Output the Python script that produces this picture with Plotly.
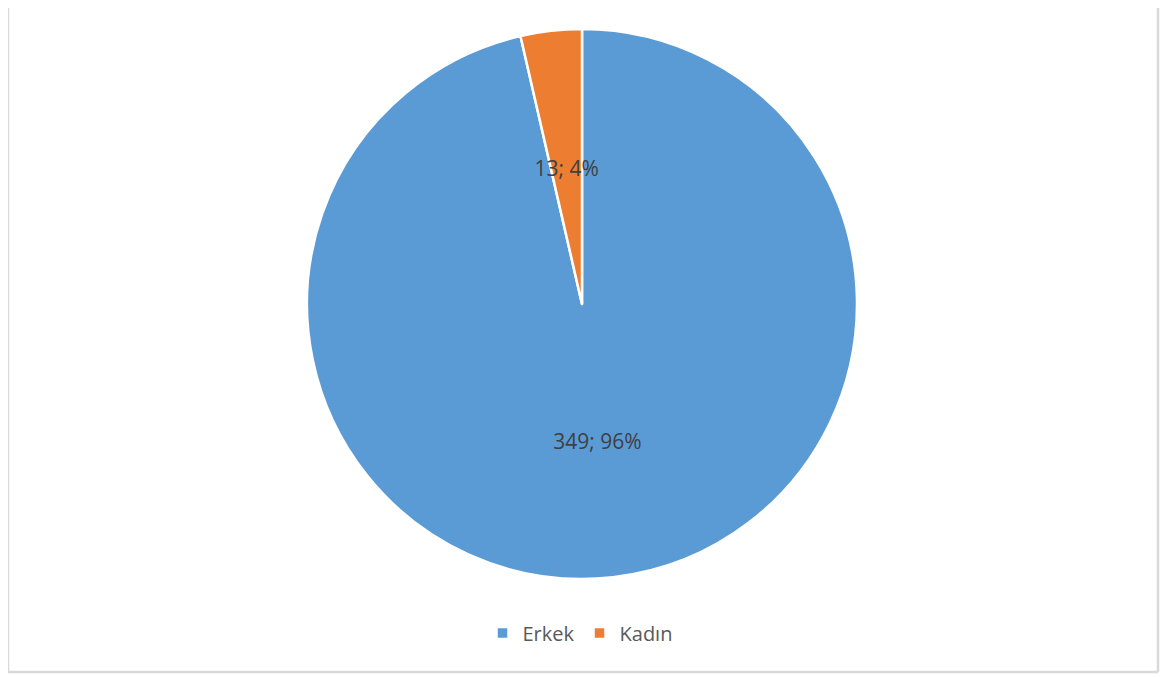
import plotly.graph_objects as go

labels = ["Erkek", "Kadın"]
values = [349, 13]
colors = ["#5B9BD5", "#ED7D31"]
label_fmt = "%{value}; %{percent:.0%}"

W, H = 1168, 677


def fx(px):
    return px / W


def fy(py):
    return (H - py) / H


# pie geometry (figure pixels)
cx, cy, R = 574, 296, 275
r_txt = 152  # radius of the transparent overlay used to place the small slice's label

main = go.Pie(
    labels=labels,
    values=values,
    sort=False,
    direction="clockwise",
    rotation=0,
    marker=dict(colors=colors, line=dict(color="white", width=2.5)),
    texttemplate=[label_fmt, ""],
    textposition="inside",
    insidetextorientation="horizontal",
    textfont=dict(family="Open Sans", size=21, color="#404040"),
    domain=dict(x=[fx(cx - R), fx(cx + R)], y=[fy(cy + R), fy(cy - R)]),
    hoverinfo="label+value+percent",
)

overlay = go.Pie(
    labels=labels,
    values=values,
    sort=False,
    direction="clockwise",
    rotation=0,
    marker=dict(colors=["rgba(0,0,0,0)", "rgba(0,0,0,0)"], line=dict(width=0)),
    texttemplate=["", label_fmt],
    textposition="inside",
    insidetextorientation="horizontal",
    textfont=dict(family="Open Sans", size=21, color="#404040"),
    domain=dict(x=[fx(cx - r_txt), fx(cx + r_txt)], y=[fy(cy + r_txt), fy(cy - r_txt)]),
    hoverinfo="skip",
    showlegend=False,
)

fig = go.Figure([main, overlay])

line_style = dict(color="#D9D9D9", width=2.5)
fig.update_layout(
    width=W, height=H,
    margin=dict(l=0, r=0, t=0, b=0),
    paper_bgcolor="white",
    plot_bgcolor="white",
    uniformtext=dict(mode="show", minsize=21),
    showlegend=True,
    legend=dict(
        orientation="h",
        x=fx(572), xanchor="center",
        y=fy(625), yanchor="middle",
        font=dict(family="Open Sans", size=20, color="#595959"),
        traceorder="normal",
    ),
    shapes=[
        dict(type="line", xref="paper", yref="paper", x0=fx(0), x1=fx(0), y0=fy(664), y1=1, line=line_style),
        dict(type="line", xref="paper", yref="paper", x0=fx(1150), x1=fx(1150), y0=fy(664), y1=1, line=line_style),
        dict(type="line", xref="paper", yref="paper", x0=fx(0), x1=fx(1150), y0=fy(664), y1=fy(664), line=line_style),
    ],
)

fig.write_html("out.html")
